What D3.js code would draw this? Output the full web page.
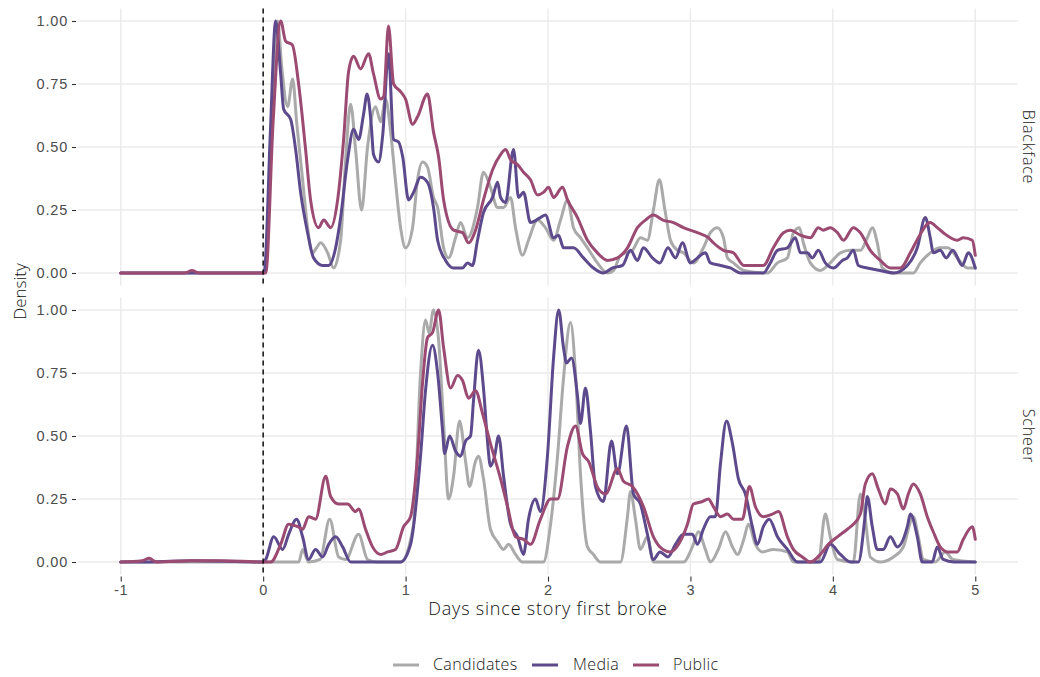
<!DOCTYPE html>
<html><head><meta charset="utf-8">
<script src="https://cdn.jsdelivr.net/npm/d3@7"></script>
<style>
html,body{margin:0;padding:0;background:#fff;}
svg{display:block;font-family:"Open Sans",Lato,sans-serif;}
</style></head>
<body><svg id="chart" width="1040" height="677"></svg>
<script>
// ---------- DATA ----------
const facets = ["Blackface", "Scheer"];
const seriesNames = ["Candidates", "Media", "Public"];
const xTicks = [-1, 0, 1, 2, 3, 4, 5];
const yTicks = [0, 0.25, 0.5, 0.75, 1];
const xLabel = "Days since story first broke";
const yLabel = "Density";

// [days, density]
const blackfaceCandidates = [[-1,0],[-0.5,0],[0,0],[0.02,0.02],[0.06,0.6],[0.102,1.0],[0.13,0.82],[0.172,0.66],[0.207,0.77],[0.235,0.6],[0.277,0.37],[0.312,0.18],[0.347,0.08],[0.375,0.10],[0.404,0.12],[0.453,0.08],[0.495,0.02],[0.544,0.13],[0.579,0.45],[0.614,0.67],[0.649,0.49],[0.691,0.25],[0.733,0.50],[0.789,0.66],[0.825,0.60],[0.860,0.69],[0.895,0.56],[0.930,0.36],[0.965,0.18],[1.0,0.10],[1.049,0.18],[1.084,0.37],[1.119,0.44],[1.154,0.42],[1.196,0.30],[1.225,0.26],[1.267,0.10],[1.302,0.06],[1.351,0.14],[1.386,0.20],[1.435,0.14],[1.505,0.26],[1.547,0.40],[1.596,0.34],[1.646,0.26],[1.688,0.26],[1.737,0.30],[1.772,0.18],[1.821,0.07],[1.863,0.13],[1.926,0.21],[1.982,0.18],[2.039,0.13],[2.088,0.21],[2.137,0.29],[2.179,0.18],[2.228,0.14],[2.277,0.10],[2.347,0.04],[2.418,0.0],[2.460,0.01],[2.509,0.07],[2.593,0.09],[2.649,0.14],[2.698,0.13],[2.740,0.25],[2.782,0.37],[2.821,0.25],[2.860,0.13],[2.909,0.09],[2.951,0.08],[3.021,0.04],[3.091,0.10],[3.140,0.16],[3.189,0.18],[3.232,0.14],[3.260,0.06],[3.302,0.04],[3.375,0.01],[3.540,0.0],[3.611,0.04],[3.681,0.06],[3.723,0.16],[3.765,0.18],[3.793,0.12],[3.842,0.04],[3.912,0.01],[3.982,0.04],[4.053,0.08],[4.123,0.09],[4.193,0.09],[4.242,0.14],[4.277,0.18],[4.312,0.12],[4.347,0.02],[4.425,0.0],[4.565,0.0],[4.614,0.04],[4.684,0.08],[4.754,0.10],[4.807,0.10],[4.874,0.06],[4.944,0.02],[5.0,0.02]];
const blackfaceMedia = [[-1,0],[0,0],[0.01,0.01],[0.05,0.55],[0.088,1.0],[0.123,0.79],[0.144,0.65],[0.193,0.61],[0.228,0.49],[0.263,0.32],[0.312,0.16],[0.354,0.06],[0.418,0.03],[0.460,0.03],[0.509,0.10],[0.544,0.22],[0.593,0.45],[0.635,0.57],[0.670,0.53],[0.705,0.63],[0.730,0.71],[0.760,0.58],[0.775,0.47],[0.810,0.44],[0.840,0.55],[0.880,0.87],[0.916,0.53],[0.951,0.52],[0.980,0.46],[1.021,0.29],[1.056,0.32],[1.105,0.38],[1.154,0.36],[1.196,0.26],[1.225,0.13],[1.281,0.05],[1.337,0.02],[1.400,0.02],[1.435,0.04],[1.470,0.03],[1.505,0.13],[1.547,0.24],[1.611,0.30],[1.646,0.36],[1.667,0.30],[1.702,0.28],[1.758,0.49],[1.793,0.30],[1.828,0.32],[1.877,0.20],[1.947,0.22],[1.982,0.23],[2.039,0.14],[2.074,0.15],[2.109,0.10],[2.179,0.10],[2.249,0.06],[2.319,0.02],[2.389,0.0],[2.453,0.02],[2.523,0.03],[2.579,0.09],[2.628,0.05],[2.670,0.10],[2.733,0.06],[2.786,0.04],[2.842,0.10],[2.895,0.06],[2.944,0.12],[3.0,0.04],[3.049,0.06],[3.105,0.08],[3.140,0.04],[3.211,0.03],[3.281,0.02],[3.351,0.0],[3.512,0.0],[3.561,0.04],[3.611,0.09],[3.681,0.10],[3.737,0.14],[3.772,0.08],[3.821,0.08],[3.856,0.06],[3.898,0.09],[3.947,0.04],[4.004,0.02],[4.067,0.05],[4.102,0.06],[4.144,0.09],[4.179,0.03],[4.242,0.02],[4.333,0.01],[4.425,0.0],[4.523,0.03],[4.593,0.10],[4.649,0.22],[4.684,0.14],[4.705,0.08],[4.754,0.09],[4.796,0.06],[4.842,0.09],[4.909,0.03],[4.951,0.08],[5.0,0.02]];
const blackfacePublic = [[-1,0],[-0.55,0],[-0.5,0.01],[-0.45,0],[0,0],[0.018,0.0],[0.07,0.6],[0.123,1.0],[0.158,0.92],[0.205,0.905],[0.249,0.75],[0.298,0.49],[0.333,0.29],[0.389,0.18],[0.425,0.21],[0.474,0.18],[0.523,0.29],[0.565,0.53],[0.600,0.80],[0.635,0.86],[0.684,0.81],[0.740,0.87],[0.775,0.79],[0.825,0.69],[0.846,0.70],[0.880,0.98],[0.916,0.75],[0.965,0.72],[1.000,0.69],[1.049,0.59],[1.084,0.62],[1.154,0.71],[1.196,0.56],[1.232,0.46],[1.267,0.29],[1.337,0.17],[1.40,0.16],[1.442,0.12],[1.491,0.17],[1.547,0.29],[1.611,0.41],[1.667,0.47],[1.702,0.49],[1.737,0.45],[1.786,0.43],[1.828,0.40],[1.877,0.37],[1.926,0.31],[1.968,0.32],[2.004,0.34],[2.039,0.30],[2.102,0.34],[2.137,0.29],[2.207,0.22],[2.277,0.13],[2.347,0.08],[2.418,0.05],[2.488,0.06],[2.558,0.10],[2.628,0.18],[2.684,0.21],[2.740,0.23],[2.807,0.21],[2.881,0.20],[2.951,0.18],[3.049,0.16],[3.126,0.14],[3.161,0.12],[3.232,0.09],[3.302,0.08],[3.375,0.03],[3.442,0.03],[3.512,0.03],[3.582,0.10],[3.653,0.16],[3.702,0.17],[3.772,0.15],[3.842,0.14],[3.898,0.18],[3.933,0.17],[3.982,0.18],[4.032,0.16],[4.074,0.13],[4.144,0.18],[4.193,0.16],[4.263,0.09],[4.333,0.05],[4.404,0.02],[4.474,0.02],[4.544,0.08],[4.600,0.14],[4.684,0.20],[4.733,0.18],[4.775,0.16],[4.874,0.13],[4.916,0.14],[4.979,0.13],[5.0,0.07]];

const scheerCandidates = [[-1,0],[0,0],[0.25,0],[0.277,0.05],[0.319,0],[0.40,0.01],[0.467,0.17],[0.530,0.02],[0.579,0.01],[0.670,0.11],[0.733,0.01],[0.80,0],[0.965,0],[1.056,0.15],[1.105,0.75],[1.140,0.96],[1.165,0.91],[1.196,1.0],[1.232,0.88],[1.267,0.55],[1.302,0.25],[1.337,0.34],[1.379,0.56],[1.421,0.40],[1.449,0.30],[1.491,0.40],[1.512,0.42],[1.547,0.33],[1.596,0.13],[1.646,0.08],[1.688,0.05],[1.723,0.07],[1.772,0.03],[1.821,0],[1.968,0],[2.018,0.15],[2.067,0.42],[2.109,0.73],[2.158,0.95],[2.193,0.75],[2.228,0.35],[2.277,0.06],[2.319,0.03],[2.368,0],[2.509,0],[2.558,0.18],[2.579,0.28],[2.614,0.17],[2.649,0.05],[2.698,0.10],[2.740,0],[2.951,0],[3.014,0.06],[3.056,0.12],[3.105,0.05],[3.140,0],[3.196,0.05],[3.246,0.12],[3.295,0.06],[3.330,0.03],[3.375,0.09],[3.407,0.15],[3.456,0.07],[3.505,0.04],[3.582,0.05],[3.681,0.04],[3.723,0],[3.898,0],[3.947,0.19],[3.982,0.10],[4.032,0.01],[4.144,0],[4.193,0.27],[4.228,0.17],[4.263,0.02],[4.333,0],[4.425,0.02],[4.495,0.06],[4.565,0.18],[4.600,0.10],[4.635,0.01],[4.719,0],[4.789,0.04],[4.842,0.01],[5.0,0]];
const scheerMedia = [[-1,0],[-0.8,0],[-0.5,0.005],[0,0],[0.018,0.01],[0.074,0.10],[0.137,0.05],[0.179,0.11],[0.235,0.17],[0.277,0.10],[0.319,0.01],[0.368,0.05],[0.418,0.02],[0.460,0.07],[0.509,0.10],[0.558,0.06],[0.614,0],[0.965,0],[1.035,0.07],[1.105,0.42],[1.140,0.68],[1.189,0.86],[1.225,0.75],[1.260,0.52],[1.274,0.43],[1.309,0.50],[1.351,0.44],[1.386,0.42],[1.421,0.48],[1.456,0.50],[1.477,0.64],[1.512,0.84],[1.547,0.69],[1.575,0.48],[1.596,0.38],[1.625,0.42],[1.653,0.50],[1.688,0.34],[1.737,0.15],[1.786,0.10],[1.828,0.03],[1.863,0.17],[1.912,0.25],[1.947,0.20],[1.996,0.42],[2.039,0.81],[2.075,1.0],[2.109,0.85],[2.130,0.79],[2.165,0.81],[2.207,0.66],[2.228,0.55],[2.263,0.69],[2.298,0.52],[2.333,0.30],[2.389,0.24],[2.446,0.48],[2.488,0.35],[2.551,0.54],[2.600,0.27],[2.649,0.23],[2.698,0.11],[2.740,0.01],[2.786,0.04],[2.842,0.02],[2.895,0.07],[2.951,0.11],[3.014,0.11],[3.049,0.07],[3.091,0.13],[3.140,0.18],[3.175,0.18],[3.211,0.39],[3.253,0.56],[3.295,0.47],[3.337,0.33],[3.386,0.27],[3.435,0.14],[3.470,0.07],[3.512,0.14],[3.554,0.17],[3.611,0.10],[3.681,0.05],[3.751,0],[3.912,0],[3.982,0.07],[4.053,0.03],[4.123,0],[4.179,0],[4.228,0.19],[4.242,0.26],[4.277,0.14],[4.312,0.05],[4.354,0.05],[4.404,0.10],[4.453,0.06],[4.523,0.14],[4.544,0.19],[4.593,0.10],[4.628,0],[4.698,0],[4.733,0.06],[4.775,0.01],[4.85,0],[5.0,0]];
const scheerPublic = [[-1,0],[-0.85,0.005],[-0.8,0.015],[-0.75,0.0],[-0.5,0.005],[-0.3,0.005],[0,0],[0.053,0.0],[0.123,0.07],[0.179,0.15],[0.242,0.14],[0.277,0.13],[0.319,0.18],[0.368,0.17],[0.439,0.34],[0.474,0.26],[0.530,0.23],[0.593,0.23],[0.649,0.20],[0.670,0.21],[0.719,0.13],[0.768,0.06],[0.825,0.03],[0.874,0.04],[0.930,0.05],[0.986,0.14],[1.035,0.18],[1.084,0.42],[1.119,0.71],[1.154,0.89],[1.189,0.91],[1.232,1.0],[1.267,0.85],[1.316,0.69],[1.365,0.74],[1.40,0.72],[1.442,0.65],[1.491,0.68],[1.540,0.59],[1.596,0.47],[1.667,0.33],[1.716,0.22],[1.772,0.10],[1.828,0.09],[1.877,0.07],[1.947,0.17],[2.018,0.25],[2.067,0.25],[2.137,0.46],[2.193,0.54],[2.242,0.43],[2.284,0.40],[2.354,0.29],[2.404,0.27],[2.488,0.37],[2.530,0.32],[2.593,0.30],[2.670,0.22],[2.740,0.10],[2.807,0.05],[2.860,0.04],[2.916,0.07],[2.979,0.15],[3.021,0.23],[3.084,0.24],[3.126,0.25],[3.161,0.22],[3.211,0.18],[3.260,0.19],[3.302,0.17],[3.365,0.17],[3.414,0.30],[3.456,0.22],[3.512,0.18],[3.575,0.19],[3.618,0.20],[3.681,0.10],[3.723,0.05],[3.786,0.02],[3.842,0],[3.912,0.03],[3.968,0.07],[4.032,0.10],[4.102,0.13],[4.144,0.15],[4.193,0.19],[4.228,0.31],[4.277,0.35],[4.319,0.29],[4.368,0.23],[4.404,0.29],[4.453,0.27],[4.495,0.21],[4.530,0.27],[4.565,0.31],[4.614,0.27],[4.663,0.18],[4.705,0.12],[4.754,0.06],[4.807,0.04],[4.874,0.04],[4.916,0.09],[4.979,0.14],[5.0,0.09]];

// ---------- STYLE ----------
const colors = {Candidates: "#aaaaaa", Media: "#5c4a8c", Public: "#9b4a72"};
const panelData = {
  Blackface: {Candidates: blackfaceCandidates, Media: blackfaceMedia, Public: blackfacePublic},
  Scheer: {Candidates: scheerCandidates, Media: scheerMedia, Public: scheerPublic}
};

const svg = d3.select("#chart");
const panelLeft = 78, panelRight = 1018;
const panels = [{name: "Blackface", top: 8.4, bottom: 285.6}, {name: "Scheer", top: 297.4, bottom: 574.6}];

const x = d3.scaleLinear().domain([-1.3, 5.3]).range([panelLeft, panelRight]);
const textColor = "#4d4d4d";
const tickFont = {"font-size": "14.5px", "font-weight": 300, "letter-spacing": "0.8px"};

panels.forEach((p, i) => {
  const y = d3.scaleLinear().domain([-0.05, 1.05]).range([p.bottom, p.top]);
  const g = svg.append("g");

  // gridlines
  g.append("g").selectAll("line").data(yTicks).join("line")
    .attr("x1", panelLeft).attr("x2", panelRight)
    .attr("y1", d => y(d)).attr("y2", d => y(d))
    .attr("stroke", "#ebebeb").attr("stroke-width", 1.4);
  g.append("g").selectAll("line").data(xTicks).join("line")
    .attr("x1", d => x(d)).attr("x2", d => x(d))
    .attr("y1", p.top).attr("y2", p.bottom)
    .attr("stroke", "#ebebeb").attr("stroke-width", 1.4);

  // y axis
  const ya = g.append("g").attr("transform", `translate(${panelLeft},0)`)
    .call(d3.axisLeft(y).tickValues(yTicks).tickFormat(d3.format(".2f")).tickSize(4).tickPadding(4));
  ya.select(".domain").remove();
  ya.selectAll(".tick line").attr("stroke", "#333").attr("stroke-width", 1.1).attr("transform", "translate(-2,0)");
  const yt = ya.selectAll(".tick text").attr("fill", textColor).attr("dx", "-2").style("font-family", null);
  Object.entries(tickFont).forEach(([k, v]) => yt.style(k, v));

  // series
  const line = d3.line().x(d => x(d[0])).y(d => y(d[1])).curve(d3.curveMonotoneX);
  seriesNames.forEach(s => {
    g.append("path").datum(panelData[p.name][s])
      .attr("d", line).attr("fill", "none")
      .attr("stroke", colors[s]).attr("stroke-width", 3)
      .attr("stroke-linejoin", "round").attr("stroke-linecap", "round");
  });

  // dashed line at 0
  g.append("line").attr("x1", x(0)).attr("x2", x(0))
    .attr("y1", p.top).attr("y2", p.bottom)
    .attr("stroke", "#000").attr("stroke-width", 1.4).attr("stroke-dasharray", "5,4");

  // strip label
  g.append("text")
    .attr("transform", `translate(${1023},${(p.top + p.bottom) / 2}) rotate(90)`)
    .attr("text-anchor", "middle").attr("fill", "#1a1a1a")
    .style("font-size", "16px").style("font-weight", 300).style("letter-spacing", "0.8px").text(p.name);

  if (i === panels.length - 1) {
    const xa = svg.append("g").attr("transform", `translate(0,${p.bottom + 2})`)
      .call(d3.axisBottom(x).tickValues(xTicks).tickFormat(d => String(d)).tickSize(5).tickPadding(3));
    xa.select(".domain").remove();
    xa.selectAll(".tick line").attr("stroke", "#333").attr("stroke-width", 1.1);
    const xt = xa.selectAll(".tick text").attr("fill", textColor).style("font-family", null);
    Object.entries(tickFont).forEach(([k, v]) => xt.style(k, v));
  }
});

// axis titles
svg.append("text").attr("x", (x(-1) + x(5)) / 2).attr("y", 615)
  .attr("text-anchor", "middle").attr("fill", "#111").style("font-size", "18px").style("font-weight", 300)
  .style("letter-spacing", "0.8px").text(xLabel);
svg.append("text").attr("transform", `translate(26,${(8.4 + 574.6) / 2}) rotate(-90)`)
  .attr("text-anchor", "middle").attr("fill", "#111").style("font-size", "17px").style("font-weight", 300).text(yLabel);

// legend
const legendItems = [
  {name: "Candidates", sx: 393, tx: 433},
  {name: "Media", sx: 532, tx: 573},
  {name: "Public", sx: 633, tx: 673}
];
const lg = svg.append("g");
legendItems.forEach(it => {
  lg.append("line").attr("x1", it.sx).attr("x2", it.sx + 26).attr("y1", 665).attr("y2", 665)
    .attr("stroke", colors[it.name]).attr("stroke-width", 3);
  lg.append("text").attr("x", it.tx).attr("y", 670).attr("fill", "#1a1a1a")
    .style("font-size", "16px").style("font-weight", 300).style("letter-spacing", "0.4px").text(it.name);
});
</script></body></html>
